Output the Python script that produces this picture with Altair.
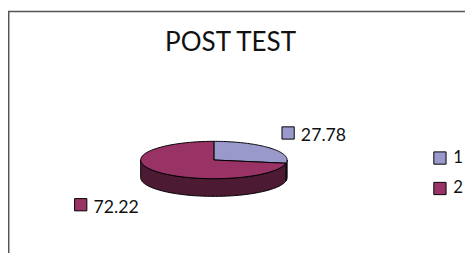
import math
import altair as alt
import pandas as pd

# ---- data ----
categories = ["1", "2"]
values = [27.78, 72.22]
labels = ["27.78", "72.22"]
title_text = "POST TEST"

# ---- styles / layout ----
top_colors = ["#9999cc", "#993366"]
side_colors = ["#4d4d73", "#4d1a33"]
W, H = 465, 247
cx, cy, rx, ry, depth = 209.5, 152.5, 74.5, 19.0, 18.0
label_pos = [(285, 125), (74, 198)]  # marker centres
FONT = "Lato"

total = sum(values)
starts, ends = [], []
acc = 0.0
for v in values:
    starts.append(acc / total * 360.0)
    acc += v
    ends.append(acc / total * 360.0)


def pt(theta_deg, dy=0.0):
    t = math.radians(theta_deg)
    return cx + rx * math.sin(t), cy - ry * math.cos(t) + dy


top_rows, side_rows = [], []
for k, cat in enumerate(categories):
    a, b = starts[k], ends[k]
    n = 80
    i = 0
    top_rows.append(dict(slice=cat, i=i, x=cx, y=cy)); i += 1
    for j in range(n + 1):
        x, y = pt(a + (b - a) * j / n)
        top_rows.append(dict(slice=cat, i=i, x=x, y=y)); i += 1
    top_rows.append(dict(slice=cat, i=i, x=cx, y=cy))
    # visible side: theta in [90, 270]
    sa, sb = max(a, 90.0), min(b, 270.0)
    if sb > sa:
        i = 0
        for j in range(n + 1):
            x, y = pt(sa + (sb - sa) * j / n)
            side_rows.append(dict(slice=cat, col=side_colors[k], i=i, x=x, y=y)); i += 1
        for j in range(n, -1, -1):
            x, y = pt(sa + (sb - sa) * j / n, depth)
            side_rows.append(dict(slice=cat, col=side_colors[k], i=i, x=x, y=y)); i += 1
        x, y = pt(sa)
        side_rows.append(dict(slice=cat, col=side_colors[k], i=i, x=x, y=y))

top_df = pd.DataFrame(top_rows)
side_df = pd.DataFrame(side_rows)
lab_df = pd.DataFrame({
    "slice": categories,
    "label": labels,
    "mx": [p[0] for p in label_pos],
    "my": [p[1] for p in label_pos],
})
lab_df["tx"] = lab_df["mx"] + 13
lab_df["ty"] = lab_df["my"] + 8

xs = alt.Scale(domain=[0, W], range=[0, W])
ys = alt.Scale(domain=[0, H], range=[0, H])
X = lambda f: alt.X(f, type="quantitative", scale=xs, axis=None)
Y = lambda f: alt.Y(f, type="quantitative", scale=ys, axis=None)

fill_scale = alt.Scale(domain=categories, range=top_colors)

side = alt.Chart(side_df).mark_line(stroke="black", strokeWidth=1, strokeJoin="round").encode(
    x=X("x"), y=Y("y"), order="i:Q", detail="slice:N",
    fill=alt.Fill("col:N", scale=None),
)

top = alt.Chart(top_df).mark_line(stroke="black", strokeWidth=1, strokeJoin="round").encode(
    x=X("x"), y=Y("y"), order="i:Q", detail="slice:N",
    fill=alt.Fill("slice:N", scale=fill_scale, legend=alt.Legend(
        title=None, orient="none", legendX=431, legendY=142,
        symbolType="square", symbolSize=156, symbolStrokeColor="black",
        symbolStrokeWidth=1, symbolOpacity=1, labelFont=FONT, labelFontSize=17,
        labelColor="#111", rowPadding=13, padding=0, labelOffset=5,
    )),
)

markers = alt.Chart(lab_df).mark_square(size=156, stroke="black", strokeWidth=1, opacity=1).encode(
    x=X("mx"), y=Y("my"), fill=alt.Fill("slice:N", scale=fill_scale),
)
texts = alt.Chart(lab_df).mark_text(align="left", baseline="alphabetic", font=FONT,
                                    fontSize=18, color="#111").encode(
    x=X("tx"), y=Y("ty"), text="label:N",
)

title = alt.Chart(pd.DataFrame({"t": [title_text]})).mark_text(
    align="center", baseline="alphabetic", font=FONT, fontSize=26.5, color="#111"
).encode(x=alt.value(226.5), y=alt.value(41.5), text="t:N")

frame_left = alt.Chart(pd.DataFrame({"a": [0]})).mark_rule(color="#555", strokeWidth=1.5).encode(
    x=alt.value(0.75), y=alt.value(1), y2=alt.value(H))
frame_top = alt.Chart(pd.DataFrame({"a": [0]})).mark_rule(color="#555", strokeWidth=1.5).encode(
    x=alt.value(0), x2=alt.value(W), y=alt.value(1.5))

chart = alt.layer(frame_left, frame_top, title, side, top, markers, texts).resolve_scale(
    fill="independent"
).properties(
    width=W, height=H, autosize=alt.AutoSizeParams(type="none"), padding=0,
    background="white",
).configure_view(stroke=None)

chart.save("out.html", embed_options={"renderer": "svg", "actions": False})
